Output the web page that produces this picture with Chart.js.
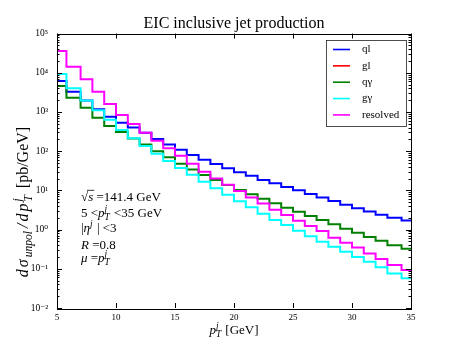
<!DOCTYPE html>
<html>
<head>
<meta charset="utf-8">
<script src="https://cdn.jsdelivr.net/npm/chart.js@4.4.0/dist/chart.umd.min.js"></script>
<style>
  html, body { margin: 0; padding: 0; background: #fff; }
  #wrap { width: 457px; height: 343px; }
</style>
</head>
<body>
<div id="wrap"><canvas id="chart" width="457" height="343"></canvas></div>
<script>
// pT bin edges (GeV)
const binEdges = [5, 5.8, 7, 8, 9, 10, 11, 12, 13, 14, 15, 16, 17, 18, 19, 20,
  21, 22, 23, 24, 25, 26, 27, 28, 29, 30, 31, 32, 33, 34.2, 35];

// dsigma/dpT per bin [pb/GeV]
const qlValues = [6140, 3270, 1950, 1165, 755, 530, 400, 295, 205, 148, 108, 80, 60, 47, 36.4,
  28.8, 23.5, 18.5, 15.1, 12.2, 10.0, 8.1, 6.6, 5.35, 4.3, 3.5, 2.9, 2.4, 2.0, 1.7];
const glValues = []; // not visible in the plot
const qgammaValues = [4580, 2300, 1280, 711, 437, 307, 209, 147, 100, 70, 48, 34, 24.5, 18.5, 13.6,
  10.2, 7.9, 6.1, 4.7, 3.6, 2.84, 2.21, 1.75, 1.36, 1.05, 0.83, 0.65, 0.515, 0.40, 0.325];
const ggammaValues = [9270, 4000, 1950, 1100, 630, 345, 214, 135, 86, 56, 37, 25, 16.6, 11.3, 7.7,
  5.3, 3.7, 2.55, 1.75, 1.30, 0.93, 0.68, 0.49, 0.364, 0.27, 0.20, 0.151, 0.109, 0.076, 0.057];
const resolvedValues = [35800, 14200, 6790, 3270, 1590, 834, 491, 295, 185, 118, 76, 48, 30, 20, 13.8,
  9.6, 6.6, 4.6, 3.2, 2.34, 1.67, 1.23, 0.92, 0.62, 0.46, 0.35, 0.247, 0.177, 0.124, 0.093];

const xTicks = [5, 10, 15, 20, 25, 30, 35];
const yTickValues = [1e-2, 1e-1, 1, 10, 100, 1e3, 1e4, 1e5];
const yTickLabels = ['10⁻²', '10⁻¹', '10⁰', '10¹', '10²', '10³', '10⁴', '10⁵'];

const SERIF = '"Liberation Serif", "DejaVu Serif", serif';

// histogram-style steps: one point per edge, last value repeated at the end
function steps(vals) {
  if (!vals.length) return [];
  return binEdges.map((x, i) => ({ x, y: vals[Math.min(i, vals.length - 1)] }));
}

function line(label, vals, color, order) {
  return {
    label,
    data: steps(vals),
    borderColor: color,
    backgroundColor: color,
    borderWidth: 2,
    stepped: 'before',
    pointRadius: 0,
    fill: false,
    order
  };
}

// small helper to write text with italic / sub / superscripts
function mathText(ctx, parts, x, y, size, draw, gap = 0) {
  let cx = x;
  for (const p of parts) {
    if (p.t !== undefined) {
      ctx.font = (p.i ? 'italic ' : '') + size + 'px ' + SERIF;
      const w = ctx.measureText(p.t).width;
      if (draw) {
        ctx.fillText(p.t, cx, y);
        if (p.over) {
          ctx.beginPath();
          ctx.moveTo(cx - 1, y - size * 0.82);
          ctx.lineTo(cx + w + 1, y - size * 0.82);
          ctx.lineWidth = 0.8;
          ctx.stroke();
        }
      }
      cx += w + gap;
    } else {
      ctx.font = 'italic ' + (size * 0.72) + 'px ' + SERIF;
      let w = 0;
      if (p.sup) {
        if (draw) ctx.fillText(p.sup, cx, y - size * 0.42);
        w = ctx.measureText(p.sup).width;
      }
      if (p.sub) {
        if (draw) ctx.fillText(p.sub, cx, y + size * 0.22);
        w = Math.max(w, ctx.measureText(p.sub).width);
      }
      cx += w + 1 + gap;
    }
  }
  return cx - x;
}

const decorations = {
  id: 'decorations',
  afterDraw(chart) {
    const { ctx, chartArea: a, scales } = chart;
    const xs = scales.x, ys = scales.y;
    ctx.save();
    ctx.strokeStyle = '#000';
    ctx.fillStyle = '#000';
    ctx.lineWidth = 1;

    // frame
    ctx.strokeRect(Math.round(a.left) + 0.5, Math.round(a.top) + 0.5,
      Math.round(a.right - a.left), Math.round(a.bottom - a.top));

    // inward ticks on all sides
    ctx.beginPath();
    xTicks.forEach(v => {
      const px = Math.round(xs.getPixelForValue(v)) + 0.5;
      ctx.moveTo(px, a.bottom); ctx.lineTo(px, a.bottom - 5);
      ctx.moveTo(px, a.top); ctx.lineTo(px, a.top + 5);
    });
    for (let e = -2; e <= 4; e++) {
      for (let m = 1; m <= 9; m++) {
        const py = Math.round(ys.getPixelForValue(m * Math.pow(10, e))) + 0.5;
        const len = m === 1 ? 5 : 2.5;
        ctx.moveTo(a.left, py); ctx.lineTo(a.left + len, py);
        ctx.moveTo(a.right, py); ctx.lineTo(a.right - len, py);
      }
    }
    ctx.stroke();

    // title
    ctx.textAlign = 'center';
    ctx.textBaseline = 'alphabetic';
    ctx.font = '16px ' + SERIF;
    ctx.fillText('EIC inclusive jet production', (a.left + a.right) / 2, 28);

    ctx.textAlign = 'left';
    // x axis label
    const xParts = [{ t: 'p', i: true }, { sup: 'j', sub: 'T' }, { t: ' [GeV]' }];
    const xw = mathText(ctx, xParts, 0, 0, 13, false);
    mathText(ctx, xParts, (a.left + a.right) / 2 - xw / 2, 334, 13, true);

    // y axis label
    const yParts = [{ t: 'd', i: true }, { t: 'σ', i: true }, { sub: 'unpol' }, { t: '/', i: true },
      { t: 'd', i: true }, { t: 'p', i: true }, { sup: 'j', sub: 'T' }, { t: ' [pb/GeV]' }];
    const yw = mathText(ctx, yParts, 0, 0, 16, false, 2);
    ctx.save();
    ctx.translate(28, 201);
    ctx.rotate(-Math.PI / 2);
    mathText(ctx, yParts, -yw / 2, 0, 16, true, 2);
    ctx.restore();

    // kinematics annotation
    const notes = [
      [{ t: '√' }, { t: 's', i: true, over: true }, { t: ' =141.4 GeV' }],
      [{ t: '5 <' }, { t: 'p', i: true }, { sup: 'j', sub: 'T' }, { t: ' <35 GeV' }],
      [{ t: '|' }, { t: 'η', i: true }, { sup: 'j' }, { t: ' | <3' }],
      [{ t: 'R', i: true }, { t: ' =0.8' }],
      [{ t: 'μ', i: true }, { t: ' =' }, { t: 'p', i: true }, { sup: 'j', sub: 'T' }]
    ];
    const noteY = [201, 217, 232, 249, 262];
    notes.forEach((n, i) => mathText(ctx, n, 81, noteY[i], 13, true));

    // legend box
    const lx = 326, ly = 40, lw = 80, lh = 86;
    ctx.fillStyle = '#fff';
    ctx.fillRect(lx, ly, lw, lh);
    ctx.strokeStyle = '#222';
    ctx.strokeRect(lx + 0.5, ly + 0.5, lw, lh);
    ctx.font = '11px ' + SERIF;
    ctx.textBaseline = 'middle';
    chart.data.datasets.forEach((ds, i) => {
      const yy = 49.5 + i * 16.35;
      ctx.strokeStyle = ds.borderColor;
      ctx.lineWidth = 1.6;
      ctx.beginPath();
      ctx.moveTo(333, yy); ctx.lineTo(350, yy);
      ctx.stroke();
      ctx.fillStyle = '#000';
      ctx.fillText(ds.label, 362, yy);
    });
    ctx.restore();
  }
};

new Chart(document.getElementById('chart'), {
  type: 'line',
  data: {
    datasets: [
      line('ql', qlValues, '#0000ff', 4),
      line('gl', glValues, '#ff0000', 3),
      line('qγ', qgammaValues, '#008000', 2),
      line('gγ', ggammaValues, '#00ffff', 1),
      line('resolved', resolvedValues, '#ff00ff', 0)
    ]
  },
  options: {
    responsive: false,
    animation: false,
    devicePixelRatio: 1,
    layout: { padding: { left: 0, right: 46, top: 33.5, bottom: 0 } },
    plugins: {
      legend: { display: false },
      title: { display: false },
      tooltip: { enabled: false }
    },
    scales: {
      x: {
        type: 'linear',
        min: 5,
        max: 35,
        afterBuildTicks: s => { s.ticks = xTicks.map(v => ({ value: v })); },
        afterFit: s => { s.height = 35; },
        grid: { display: false, drawTicks: false },
        border: { display: false },
        ticks: {
          font: { family: SERIF, size: 9 },
          color: '#000',
          padding: 4,
          maxRotation: 0,
          autoSkip: false
        }
      },
      y: {
        type: 'logarithmic',
        min: 1e-2,
        max: 1e5,
        afterBuildTicks: s => { s.ticks = yTickValues.map(v => ({ value: v })); },
        afterFit: s => { s.width = 57; },
        grid: { display: false, drawTicks: false },
        border: { display: false },
        ticks: {
          callback: (v, i) => yTickLabels[i],
          font: { family: SERIF, size: 9.5 },
          color: '#000',
          padding: 9,
          autoSkip: false
        }
      }
    }
  },
  plugins: [decorations]
});
</script>
</body>
</html>
